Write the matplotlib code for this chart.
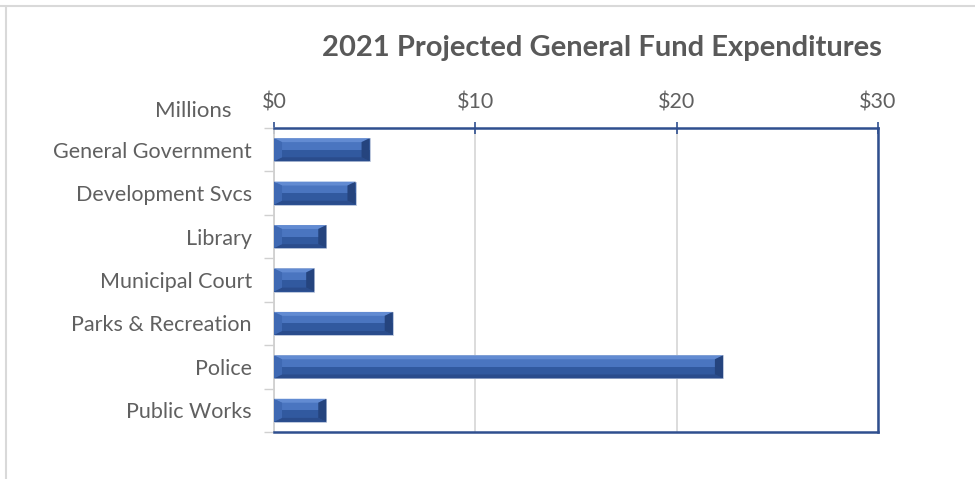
import numpy as np
import matplotlib.pyplot as plt
from matplotlib.lines import Line2D

plt.rcParams['font.family'] = ['Lato', 'DejaVu Sans']

departments = ['General Government', 'Development Svcs', 'Library', 'Municipal Court',
               'Parks & Recreation', 'Police', 'Public Works']
spend = [4.75, 4.05, 2.6, 2.0, 5.9, 22.3, 2.6]  # millions
x_ticks = [0, 10, 20, 30]

text_col = '#606060'
axis_blue = '#2F4F8F'

fig = plt.figure(figsize=(9.75, 4.79), dpi=100)
ax = fig.add_axes([0.281, 0.0981, 0.6195, 0.6347])

# bars with a soft bevel look: face + four edge trapezoids
bar_h = 0.53
bx, by = 0.4, 0.09   # bevel size in data units
ypos = np.arange(len(departments))
for y, v in zip(ypos, spend):
    top, bot = y - bar_h / 2, y + bar_h / 2   # y axis is inverted
    ax.barh(y, v, height=bar_h, color='#4A75C0', edgecolor='#C3CCDD', lw=0.6, zorder=3)
    # lower half of face a bit darker
    ax.barh(y + bar_h / 4, v, height=bar_h / 2, color='#31599F', lw=0, zorder=3)
    bxe = min(bx, v / 3)
    ax.add_patch(plt.Polygon([(0, top), (v, top), (v - bxe, top + by), (bxe, top + by)],
                             color='#628BD2', lw=0, zorder=4))
    ax.add_patch(plt.Polygon([(0, bot), (v, bot), (v - bxe, bot - by), (bxe, bot - by)],
                             color='#2A4C8C', lw=0, zorder=4))
    ax.add_patch(plt.Polygon([(v, top), (v, bot), (v - bxe, bot - by), (v - bxe, top + by)],
                             color='#25447E', lw=0, zorder=4))
    ax.add_patch(plt.Polygon([(0, top), (0, bot), (bxe, bot - by), (bxe, top + by)],
                             color='#3F69B3', lw=0, zorder=4))

ax.set_xlim(0, 30)
ax.set_ylim(len(departments) - 0.5, -0.5)
ax.set_xticks(x_ticks)
ax.set_xticklabels(['$%d' % t for t in x_ticks])
ax.xaxis.tick_top()
ax.tick_params(axis='x', direction='inout', length=8, width=1.2, color=axis_blue,
               labelsize=15.5, labelcolor=text_col, pad=7.5)
ax.set_yticks(ypos)
ax.set_yticklabels(departments)
ax.set_yticks(np.arange(-0.5, len(departments)), minor=True)
ax.tick_params(axis='y', which='major', length=0, labelsize=15.5, labelcolor=text_col, pad=16)
ax.tick_params(axis='y', which='minor', length=7, width=1, color='#d0d0d0', direction='out')

ax.grid(axis='x', color='#d9d9d9', lw=1.3, zorder=0)
ax.set_axisbelow(True)

for s in ['top', 'right', 'bottom']:
    ax.spines[s].set_color(axis_blue)
    ax.spines[s].set_linewidth(1.8)
ax.spines['left'].set_color('#d0d0d0')
ax.spines['left'].set_linewidth(1.3)

fig.text(0.617, 0.9, '2021 Projected General Fund Expenditures', ha='center', va='center',
         fontsize=21, fontweight='bold', color='#595959')
fig.text(0.198, 0.768, 'Millions', ha='center', va='center', fontsize=16, color=text_col)

# outer chart frame (top and left edges visible)
fig.add_artist(Line2D([0, 1], [0.987, 0.987], color='#d9d9d9', lw=1.5))
fig.add_artist(Line2D([0.006, 0.006], [0, 0.985], color='#d9d9d9', lw=1.5))

fig.savefig('out.png', dpi=100)
